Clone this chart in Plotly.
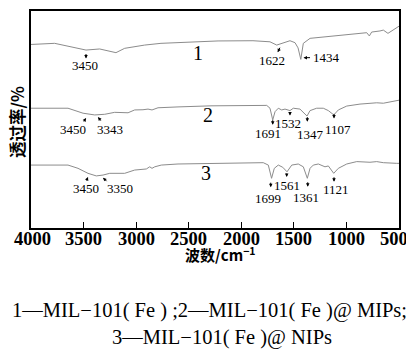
import plotly.graph_objects as go

# ---------------- data ----------------
wn1 = [4000, 3990, 3775, 3620, 3477, 3347, 3192, 3109, 2919, 2764, 2443, 2221, 1889, 1727,
       1663, 1616, 1537, 1489, 1460, 1434, 1422, 1410, 1346, 1188, 966, 807, 782, 760, 681,
       649, 605, 554, 519, 500]
t1 = [84.6, 84.6, 85.1, 83.5, 82.0, 82.5, 80.8, 82.8, 84.3, 85.1, 85.8, 86.2, 86.3, 85.8,
      84.3, 85.1, 86.3, 85.4, 83.0, 77.7, 82.0, 85.1, 87.4, 88.2, 89.3, 90.0, 88.5, 90.3, 90.8,
      91.2, 89.7, 91.2, 92.5, 93.0]

wn2 = [4000, 3965, 3648, 3505, 3394, 3299, 3204, 3077, 3014, 2935, 2887, 2849, 2792, 2602,
       2288, 1758, 1727, 1701, 1679, 1648, 1616, 1584, 1537, 1505, 1442, 1375, 1346, 1283,
       1220, 1172, 1120, 1077, 997, 871, 712, 649, 522, 500]
t2 = [55.2, 55.2, 55.2, 52.9, 52.1, 52.4, 53.3, 53.1, 54.4, 54.5, 54.8, 54.4, 55.4, 55.8,
      56.3, 56.5, 55.2, 49.8, 53.6, 55.2, 54.4, 54.8, 54.1, 55.2, 54.8, 51.6, 54.1, 55.2,
      55.2, 54.1, 52.1, 54.4, 56.2, 57.1, 57.7, 57.5, 58.7, 58.9]

wn3 = [4000, 3965, 3648, 3553, 3458, 3379, 3315, 3251, 3109, 3014, 2903, 2871, 2849, 2823,
       2761, 2602, 2285, 1791, 1743, 1712, 1686, 1648, 1606, 1565, 1520, 1458, 1410, 1372,
       1346, 1315, 1267, 1204, 1172, 1121, 1077, 997, 902, 776, 712, 649, 522, 500]
t3 = [29.0, 29.0, 29.0, 27.5, 25.2, 24.0, 24.4, 25.2, 25.2, 26.7, 27.2, 28.2, 27.5, 28.2,
      29.0, 29.5, 29.8, 30.1, 29.0, 22.9, 27.5, 29.0, 28.0, 25.9, 29.0, 29.5, 28.2, 22.9,
      27.5, 29.0, 29.5, 28.2, 28.6, 25.2, 27.5, 29.5, 30.6, 30.3, 30.6, 30.1, 29.8, 29.8]

curve_names = ["1", "2", "3"]
tick_vals = [4000, 3500, 3000, 2500, 2000, 1500, 1000, 500]
tick_text = ["<b>%d</b>" % v for v in tick_vals]

peak_labels = ["3450", "1622", "1434",
               "3450", "3343", "1691", "1532", "1347", "1107",
               "3450", "3350", "1699", "1561", "1361", "1121"]

x_title = "<b>波数/cm<sup>−1</sup></b>"
y_title = "<b>透过率/%</b>"
caption1 = "1—MIL−101( Fe ) ;2—MIL−101( Fe )@ MIPs;"
caption2 = "3—MIL−101( Fe )@ NIPs"

# ---------------- layout positions ----------------
# (text_x, text_y, tip_x, tip_y, ax, ay) for each peak label, in data units / pixel offsets
peak_pos = [
    (3489, 75.1, 3477, 78.1, 0, -6),
    (1705, 77.4, 1654, 81.0, 3, -6),
    (1188, 78.5, 1408, 78.5, 8, 0),
    (3601, 45.6, 3477, 50.7, -3, 5),
    (3251, 45.6, 3363, 51.1, 4, 5),
    (1743, 43.6, 1701, 47.6, 0, -6),
    (1553, 48.2, 1537, 51.8, 0, -5),
    (1346, 43.2, 1372, 49.0, 0, -6),
    (1077, 45.5, 1118, 50.5, 0, -6),
    (3474, 18.3, 3458, 23.5, -2, 5),
    (3156, 18.3, 3315, 23.2, 5, 5),
    (1743, 13.7, 1720, 18.8, 0, -6),
    (1562, 19.8, 1568, 23.5, 0, -5),
    (1387, 14.0, 1368, 19.0, 0, -6),
    (1099, 17.8, 1118, 21.3, 0, -6),
]
name_pos = [(2412, 80.8), (2317, 52.1), (2333, 25.2)]
tick_shift = [1, 0, 0, 0, 0, 0, 0, -5]

SERIF = "Liberation Serif"
CJK = "Noto Sans CJK SC"
GRAY = "#8c8c8c"

fig = go.Figure()
for wx, ty in [(wn1, t1), (wn2, t2), (wn3, t3)]:
    fig.add_trace(go.Scatter(x=wx, y=ty, mode="lines",
                             line=dict(color=GRAY, width=1), showlegend=False,
                             hoverinfo="skip"))

annotations = []
for lab, (tx, ty, px, py, ax, ay) in zip(peak_labels, peak_pos):
    annotations.append(dict(x=tx, y=ty, xref="x", yref="y", text=lab, showarrow=False,
                            xanchor="center", yanchor="middle",
                            font=dict(family=SERIF, size=13, color="black")))
    annotations.append(dict(x=px, y=py, xref="x", yref="y", text="", showarrow=True,
                            ax=ax, ay=ay, arrowhead=2, arrowsize=0.7, arrowwidth=1,
                            arrowcolor="black", standoff=0, startstandoff=0))
for nm, (nx, ny) in zip(curve_names, name_pos):
    annotations.append(dict(x=nx, y=ny, xref="x", yref="y", text=nm, showarrow=False,
                            xanchor="center", yanchor="middle",
                            font=dict(family=SERIF, size=20, color="black")))
# x tick labels, placed just under the axis
for tv, tt, sh in zip(tick_vals, tick_text, tick_shift):
    annotations.append(dict(x=tv, y=-0.0507, xref="x", yref="paper", text=tt,
                            showarrow=False, xanchor="center", yanchor="middle", xshift=sh,
                            font=dict(family=SERIF, size=18.5, color="black")))

annotations += [
    dict(x=0.516, y=-0.121, xref="paper", yref="paper", text=x_title, showarrow=False,
         xanchor="center", yanchor="middle",
         font=dict(family=CJK, size=15, color="black")),
    dict(x=-0.0367, y=0.491, xref="paper", yref="paper", text=y_title, showarrow=False,
         xanchor="center", yanchor="middle",
         textangle=-90, font=dict(family=CJK, size=16.5, color="black")),
    dict(x=0.486, y=-0.378, xref="paper", yref="paper", text=caption1, showarrow=False,
         xanchor="center", yanchor="middle",
         font=dict(family=SERIF, size=20.5, color="black")),
    dict(x=0.520, y=-0.505, xref="paper", yref="paper", text=caption2, showarrow=False,
         xanchor="center", yanchor="middle",
         font=dict(family=SERIF, size=20.5, color="black")),
]

# the page body adds an 8 px margin, so the figure is made 8 px smaller on each side
fig.update_layout(
    width=406, height=345,
    margin=dict(l=23, r=15, t=3, b=125, autoexpand=False),
    paper_bgcolor="white", plot_bgcolor="white",
    annotations=annotations,
    xaxis=dict(range=[4000, 500], tickvals=tick_vals, showticklabels=False,
               ticks="inside", ticklen=6, tickwidth=1, tickcolor="black",
               showline=True, linecolor="black", linewidth=2, mirror=True,
               showgrid=False, zeroline=False, automargin=False),
    yaxis=dict(range=[0, 100], showticklabels=False, ticks="",
               showline=True, linecolor="black", linewidth=2, mirror=True,
               showgrid=False, zeroline=False, automargin=False),
)

fig.write_html("out.html")
